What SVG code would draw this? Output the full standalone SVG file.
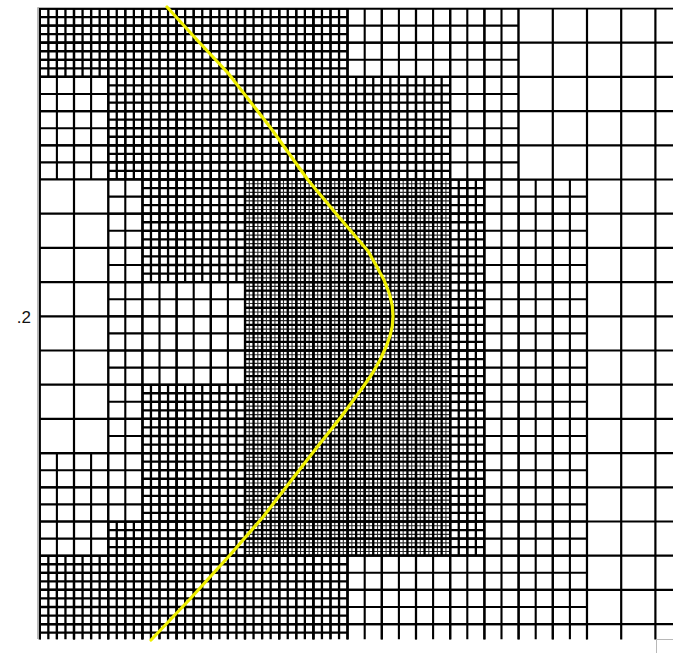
<svg xmlns="http://www.w3.org/2000/svg" width="673" height="653" viewBox="0 0 673 653">
<defs>
<style>
.g{fill:none;stroke:#000}
.l0{stroke-dasharray:2.2 32}
.l1{stroke-dasharray:2.1 15;stroke-dashoffset:1.05}
.l2{stroke-dasharray:2.3 6.25;stroke-dashoffset:1.15}
.l3{stroke:#2a2a2a;stroke-dasharray:1.1 3.175;stroke-dashoffset:0.55}
.frame{fill:none;stroke:#b8b8b8;stroke-width:1}
</style>
<clipPath id="plot"><rect x="38" y="7" width="635" height="632.5"/></clipPath>
</defs>
<rect width="673" height="653" fill="#fff"/>
<g id="mesh" clip-path="url(#plot)">
<g id="level3" class="g l3">
<path d="M245 367.6H450.2" stroke-width="376.2"/><path d="M347.6 179.5V555.7" stroke-width="205.2"/>
</g>
<g id="level2" class="g l2">
<path d="M39.8 42.7H347.6" stroke-width="68.4"/><path d="M193.7 8.5V76.9" stroke-width="307.8"/>
<path d="M108.2 128.2H450.2" stroke-width="102.6"/><path d="M279.2 76.9V179.5" stroke-width="342"/>
<path d="M142.4 230.8H484.4" stroke-width="102.6"/><path d="M313.4 179.5V282.1" stroke-width="342"/>
<path d="M245 333.4H484.4" stroke-width="102.6"/><path d="M364.7 282.1V384.7" stroke-width="239.4"/>
<path d="M142.4 453.1H484.4" stroke-width="136.8"/><path d="M313.4 384.7V521.5" stroke-width="342"/>
<path d="M108.2 538.6H484.4" stroke-width="34.2"/><path d="M296.3 521.5V555.7" stroke-width="376.2"/>
<path d="M39.8 597.6H347.6" stroke-width="83.8"/><path d="M193.7 555.7V639.5" stroke-width="307.8"/>
</g>
<g id="level1" class="g l1">
<path d="M39.8 94H518.6" stroke-width="171"/><path d="M279.2 8.5V179.5" stroke-width="478.8"/>
<path d="M108.2 316.3H587" stroke-width="273.6"/><path d="M347.6 179.5V453.1" stroke-width="478.8"/>
<path d="M39.8 546.3H587" stroke-width="186.4"/><path d="M313.4 453.1V639.5" stroke-width="547.2"/>
</g>
<g id="level0" class="g l0">
<path d="M38.7 324H680" stroke-width="633"/>
<path d="M356.4 7.4V650" stroke-width="634"/>
</g>
</g>
<g id="frame">
<path class="frame" d="M37.5 639V7.5H673"/>
<path class="frame" d="M656.5 653V639.5H673"/>
</g>
<polyline id="curve" fill="none" stroke="#eeee00" stroke-width="3.2" stroke-linejoin="round" stroke-linecap="round" points="167,7 198,41 228,73 270,127 308,180 333,210 356,237 368,251 377,267 384,280 389.5,294 392.3,306 393,316 392.3,326 390,336 386,347 380,360 372,374 363,387 352,402 341,417 318,446 297,473 263,517 230,555 190,599 151,640"/>
<text id="label" x="31" y="322.5" font-family="Liberation Sans, Arial, sans-serif" font-size="17" text-anchor="end" fill="#111">.2</text>
</svg>
